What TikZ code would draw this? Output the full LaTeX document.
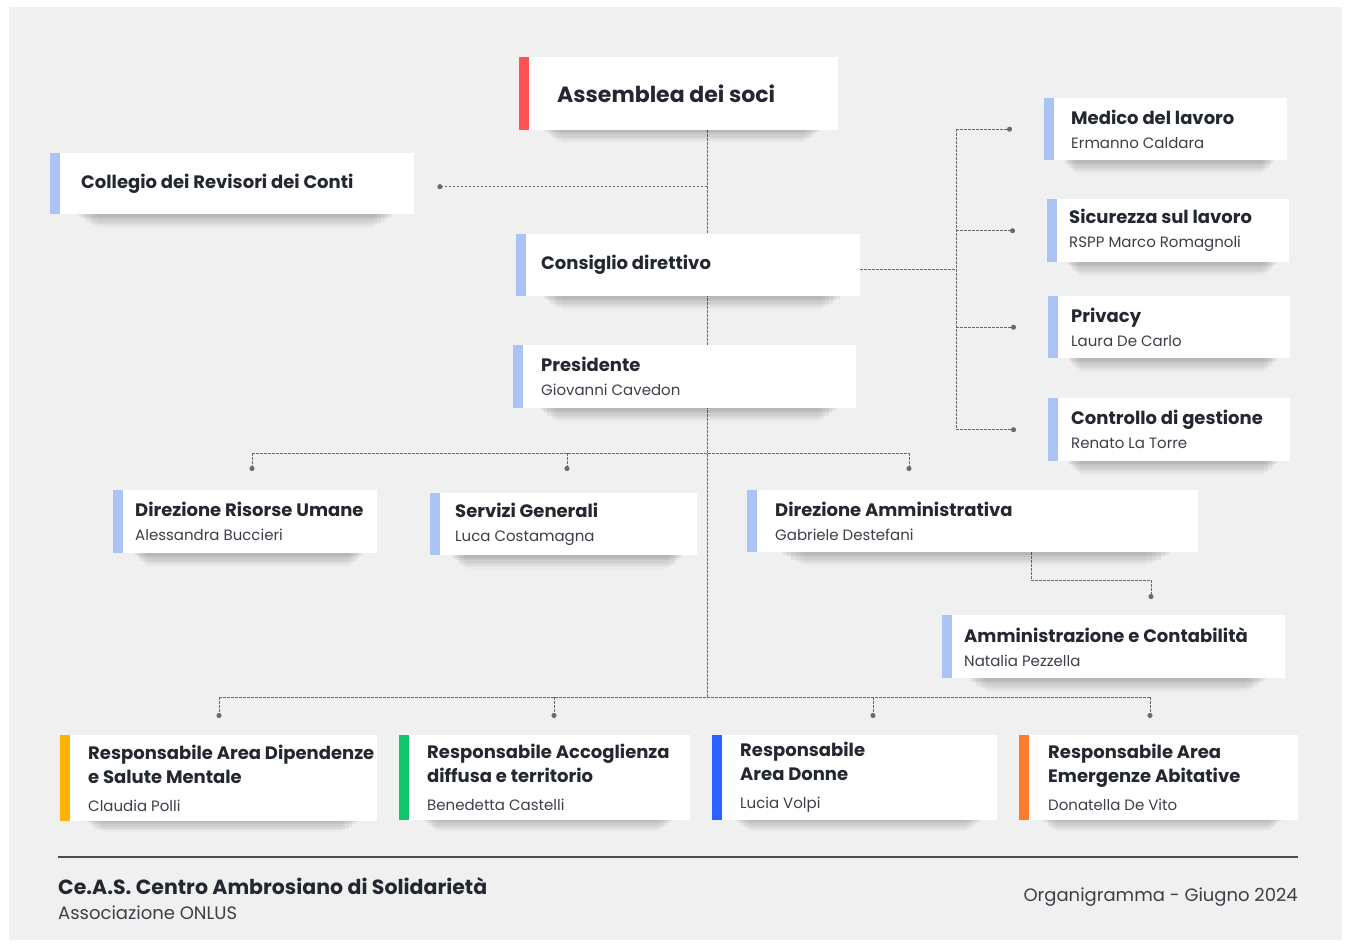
\documentclass[tikz,border=0pt]{standalone}
\usepackage{fontspec}
\setmainfont{Poppins}
\usetikzlibrary{positioning, arrows.meta, shadows, calc}

\definecolor{paper}{HTML}{F0F0F0}
\definecolor{ink}{HTML}{23272F}
\definecolor{muted}{HTML}{3B3F47}
\definecolor{linegray}{HTML}{6A6A6A}
\definecolor{rulegray}{HTML}{4A4C50}
\definecolor{softblue}{HTML}{A9C4F5}
\definecolor{accred}{HTML}{FF5353}
\definecolor{accyellow}{HTML}{FFB300}
\definecolor{accgreen}{HTML}{12C46B}
\definecolor{accblue}{HTML}{2962FF}
\definecolor{accorange}{HTML}{FF7A2B}

\newcommand{\ttl}{\fontsize{18}{24}\selectfont\bfseries\color{ink}}
\newcommand{\nm}{\fontsize{15}{24}\selectfont\color{muted}}

\pgfdeclarelayer{back}
\pgfdeclarelayer{links}
\pgfsetlayers{back,links,main}

\tikzset{
  soft shadow/.style={
    general shadow={shadow xshift=4pt, shadow yshift=-8pt, shadow scale=0.86, fill=black, opacity=0.06},
    general shadow={shadow xshift=4pt, shadow yshift=-12pt, shadow scale=0.84, fill=black, opacity=0.05},
    general shadow={shadow xshift=4pt, shadow yshift=-16pt, shadow scale=0.82, fill=black, opacity=0.05},
    general shadow={shadow xshift=4pt, shadow yshift=-20pt, shadow scale=0.80, fill=black, opacity=0.04},
    general shadow={shadow xshift=4pt, shadow yshift=-24pt, shadow scale=0.78, fill=black, opacity=0.03},
    general shadow={shadow xshift=4pt, shadow yshift=-28pt, shadow scale=0.76, fill=black, opacity=0.02}},
  card/.style={rectangle, fill=white, anchor=north west, inner sep=0pt, soft shadow,
    path picture={\fill[#1] (path picture bounding box.north west) rectangle ([xshift=10pt]path picture bounding box.south west);}},
  cardtext/.style={anchor=west, inner sep=0pt, align=left, text=ink, font=\fontsize{18}{24}\selectfont},
  link/.style={draw=linegray, line width=0.9pt, dash pattern=on 2.5pt off 1.5pt},
  enddot/.style={-{Circle[length=5pt]}},
}

\begin{document}
\begin{tikzpicture}[x=1pt, y=-1pt]
  \useasboundingbox (0,0) rectangle (1350,945);
  \begin{pgfonlayer}{back}
    \fill[paper] (9,7) rectangle (1342,940);
  \end{pgfonlayer}

  % Governance
  \node[card=accred, minimum width=319pt, minimum height=73pt] (assemblea) at (519,57) {};
  \node[cardtext, font=\fontsize{22}{26}\selectfont\bfseries] (assemblea-t) at ([xshift=38pt]assemblea.west) {Assemblea dei soci};

  \node[card=softblue, minimum width=364pt, minimum height=61pt] (collegio) at (50,153) {};
  \node[cardtext] (collegio-t) at ([xshift=31pt]collegio.west) {\ttl Collegio dei Revisori dei Conti};

  \node[card=softblue, minimum width=344pt, minimum height=62pt] (consiglio) at (516,234) {};
  \node[cardtext] (consiglio-t) at ([xshift=25pt]consiglio.west) {\ttl Consiglio direttivo};

  \node[card=softblue, minimum width=343pt, minimum height=63pt] (presidente) at (513,345) {};
  \node[cardtext] (presidente-t) at ([xshift=28pt]presidente.west) {\ttl Presidente\\\nm Giovanni Cavedon};

  % Staff on the right
  \node[card=softblue, minimum width=243pt, minimum height=62pt] (medico) at (1044,98) {};
  \node[cardtext] (medico-t) at ([xshift=27pt]medico.west) {\ttl Medico del lavoro\\\nm Ermanno Caldara};

  \node[card=softblue, minimum width=242pt, minimum height=63pt] (sicurezza) at (1047,199) {};
  \node[cardtext] (sicurezza-t) at ([xshift=22pt]sicurezza.west) {\ttl Sicurezza sul lavoro\\\nm RSPP Marco Romagnoli};

  \node[card=softblue, minimum width=242pt, minimum height=62pt] (privacy) at (1048,296) {};
  \node[cardtext] (privacy-t) at ([xshift=23pt]privacy.west) {\ttl Privacy\\\nm Laura De Carlo};

  \node[card=softblue, minimum width=242pt, minimum height=63pt] (controllo) at (1048,398) {};
  \node[cardtext] (controllo-t) at ([xshift=23pt]controllo.west) {\ttl Controllo di gestione\\\nm Renato La Torre};

  % Direzioni
  \node[card=softblue, minimum width=264pt, minimum height=63pt] (risorse) at (113,490) {};
  \node[cardtext] (risorse-t) at ([xshift=22pt]risorse.west) {\ttl Direzione Risorse Umane\\\nm Alessandra Buccieri};

  \node[card=softblue, minimum width=267pt, minimum height=62pt] (servizi) at (430,493) {};
  \node[cardtext] (servizi-t) at ([xshift=25pt]servizi.west) {\ttl Servizi Generali\\\nm Luca Costamagna};

  \node[card=softblue, minimum width=451pt, minimum height=62pt] (diramm) at (747,490) {};
  \node[cardtext] (diramm-t) at ([xshift=28pt]diramm.west) {\ttl Direzione Amministrativa\\\nm Gabriele Destefani};

  \node[card=softblue, minimum width=343pt, minimum height=63pt] (contab) at (942,615) {};
  \node[cardtext] (contab-t) at ([xshift=22pt]contab.west) {\ttl Amministrazione e Contabilità\\\nm Natalia Pezzella};

  % Aree
  \node[card=accyellow, minimum width=317pt, minimum height=86pt] (dipendenze) at (60,735) {};
  \node[cardtext] (dipendenze-t) at ([xshift=28pt]dipendenze.west) {\ttl Responsabile Area Dipendenze\\\ttl e Salute Mentale\\[4pt]\nm Claudia Polli};

  \node[card=accgreen, minimum width=291pt, minimum height=85pt] (accoglienza) at (399,735) {};
  \node[cardtext] (accoglienza-t) at ([xshift=28pt]accoglienza.west) {\ttl Responsabile Accoglienza\\\ttl diffusa e territorio\\[4pt]\nm Benedetta Castelli};

  \node[card=accblue, minimum width=285pt, minimum height=85pt] (donne) at (712,735) {};
  \node[cardtext] (donne-t) at ([xshift=28pt]donne.west) {\ttl Responsabile\\\ttl Area Donne\\[4pt]\nm Lucia Volpi};

  \node[card=accorange, minimum width=279pt, minimum height=85pt] (emergenze) at (1019,735) {};
  \node[cardtext] (emergenze-t) at ([xshift=29pt]emergenze.west) {\ttl Responsabile Area\\\ttl Emergenze Abitative\\[4pt]\nm Donatella De Vito};

  % Connectors
  \coordinate (spine) at (707,0);
  \coordinate (rbus) at (956,0);
  \coordinate (pb1) at (252,453);
  \coordinate (pb2) at (567,453);
  \coordinate (pb3) at (909,453);
  \coordinate (da) at (1031,580);
  \coordinate (ac) at (1151,580);
  \coordinate (bb1) at (219,697);
  \coordinate (bb2) at (554,697);
  \coordinate (bb3) at (873,697);
  \coordinate (bb4) at (1150,697);
  \begin{pgfonlayer}{links}
    \draw[link] (spine |- assemblea.south) -- (spine |- bb1);
    \draw[link, enddot] ($(spine |- collegio.east)+(0,3)$) -- ($(collegio.east)+(23,3)$);
    \draw[link] ($(consiglio.east)+(0,4)$) -- ($(rbus |- consiglio.east)+(0,4)$);
    \draw[link] (rbus |- medico.west) -- (rbus |- controllo.west);
    \foreach \s in {medico, sicurezza, privacy, controllo}
      \draw[link, enddot] (rbus |- \s.west) -- ([xshift=-32pt]\s.west);
    \draw[link] (pb1) -- (pb3);
    \draw[link, enddot] (pb1) -- ($(risorse.north -| pb1)+(0,-19)$);
    \draw[link, enddot] (pb2) -- ($(servizi.north -| pb2)+(0,-22)$);
    \draw[link, enddot] (pb3) -- ($(diramm.north -| pb3)+(0,-19)$);
    \draw[link, enddot] (diramm.south -| da) -- (da) -- (ac) -- ($(contab.north -| ac)+(0,-16)$);
    \draw[link] (bb1) -- (bb4);
    \foreach \b/\n in {bb1/dipendenze, bb2/accoglienza, bb3/donne, bb4/emergenze}
      \draw[link, enddot] (\b) -- ($(\n.north -| \b)+(0,-17)$);
  \end{pgfonlayer}

  % Footer
  \draw[rulegray, line width=2.2pt] (58,857) -- (1298,857);
  \node[anchor=base west, inner sep=0pt, text=ink, font=\fontsize{20.5}{24}\selectfont\bfseries] (ente) at (58,894) {Ce.A.S. Centro Ambrosiano di Solidarietà};
  \node[anchor=base west, inner sep=0pt, text=muted, font=\fontsize{18}{22}\selectfont] (onlus) at (58,919) {Associazione ONLUS};
  \node[anchor=base east, inner sep=0pt, text=muted, font=\fontsize{18}{22}\selectfont] (data) at (1298,901) {Organigramma - Giugno 2024};
\end{tikzpicture}
\end{document}
